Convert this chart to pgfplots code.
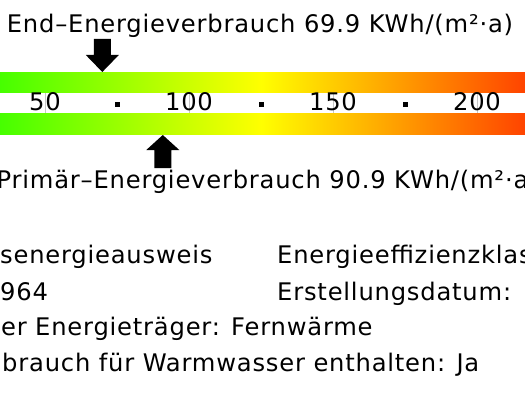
\documentclass[border=0pt]{standalone}
\usepackage{fontspec}
\usepackage{pgfplots}
\pgfplotsset{compat=1.18}
\newfontfamily\lgfont[LetterSpace=3.3]{DejaVu Sans}
\newcommand{\txtf}{\lgfont\fontsize{24.3}{29}\selectfont}
\begin{document}
\begin{tikzpicture}
\begin{axis}[at={(0,0)}, anchor=south west, scale only axis,
  width=525bp, height=394bp,
  xmin=34.375, xmax=216.67, ymin=0, ymax=394, y dir=reverse,
  hide axis, unbounded coords=jump,
  colormap={energy}{rgb255(0cm)=(0,255,0) rgb255(1cm)=(255,255,0) rgb255(2cm)=(255,0,0)},
  point meta min=0, point meta max=250]
% gradient bars
\addplot[surf, shader=interp, mesh/cols=3, point meta=x] table {
x y
34.375 72
125 72
216.67 72
34.375 93
125 93
216.67 93
};
\addplot[surf, shader=interp, mesh/cols=3, point meta=x] table {
x y
34.375 113
125 113
216.67 113
34.375 135
125 135
216.67 135
};
% thin scale lines
\addplot[gray!45, line width=0.8bp] coordinates {(50,93) (50,113) (75,nan) (100,93) (100,113) (125,nan) (150,93) (150,113) (175,nan) (200,93) (200,113)};
% dots
\addplot[only marks, mark=square*, mark size=2.1bp, black] coordinates {(75,104) (125,104) (175,104)};
% End-Energie arrow (69.9)
\addplot[fill=black, draw=none] coordinates {(66.95,39) (72.85,39) (72.85,55) (75.63,55) (69.9,72) (64.17,55) (66.95,55)} -- cycle;
% Primaer arrow (90.9)
\addplot[fill=black, draw=none] coordinates {(90.9,135) (96.63,150) (93.85,150) (93.85,168) (87.95,168) (87.95,150) (85.17,150)} -- cycle;
% texts
\node[anchor=base, inner sep=0, font=\txtf] at (axis cs:124.65,33) {End–Energieverbrauch 69.9 KWh/(m²·a)};
\node[anchor=base, inner sep=0, font=\txtf] at (axis cs:127.3,188) {Primär–Energieverbrauch 90.9 KWh/(m²·a)};
\node[anchor=base, inner sep=0, font=\txtf] at (axis cs:50,111) {50};
\node[anchor=base, inner sep=0, font=\txtf] at (axis cs:100,111) {100};
\node[anchor=base, inner sep=0, font=\txtf] at (axis cs:150,111) {150};
\node[anchor=base, inner sep=0, font=\txtf] at (axis cs:200,111) {200};
\node[anchor=base west, inner sep=0, font=\txtf] at (axis cs:34.375,263) {senergieausweis};
\node[anchor=base west, inner sep=0, font=\txtf] at (axis cs:34.375,300) {964};
\node[anchor=base west, inner sep=0, font=\txtf] at (axis cs:34.7,335) {er Energieträger: Fernwärme};
\node[anchor=base west, inner sep=0, font=\txtf] at (axis cs:35.07,371) {brauch für Warmwasser enthalten: Ja};
\node[anchor=base west, inner sep=0, font=\txtf] at (axis cs:130.56,263) {Energieeffizienzklasse};
\node[anchor=base west, inner sep=0, font=\txtf] at (axis cs:130.56,300) {Erstellungsdatum:};
\end{axis}
\pgfresetboundingbox
\path (0,0) rectangle (525bp,394bp);
\end{tikzpicture}
\end{document}
